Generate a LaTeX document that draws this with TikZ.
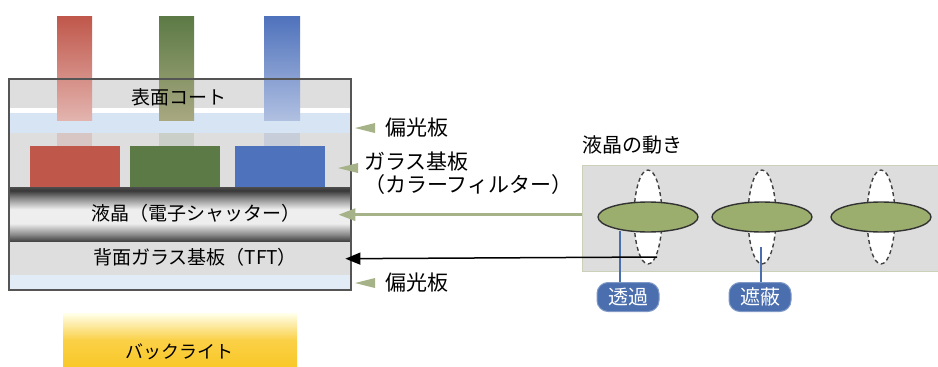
\documentclass[tikz,border=0pt]{standalone}
\usepackage{fontspec}
\newfontfamily\jp{Noto Sans CJK JP}
\usetikzlibrary{arrows.meta,shapes.geometric,calc}

\definecolor{layergray}{HTML}{DEDEDE}
\definecolor{paleblue}{HTML}{D6E4F4}
\definecolor{framegray}{HTML}{555555}
\definecolor{fred}{HTML}{C0574B}
\definecolor{fgreen}{HTML}{5C7A45}
\definecolor{fgreenpale}{HTML}{A8A880}
\definecolor{fblue}{HTML}{4F72BC}
\definecolor{olive}{HTML}{A6B288}
\definecolor{lcgreen}{HTML}{9CAE6E}
\definecolor{tagblue}{HTML}{4A6EAE}
\definecolor{panelgray}{HTML}{DDDDDD}
\definecolor{mdark}{HTML}{383838}
\definecolor{mmid}{HTML}{8A8A8A}
\definecolor{mlight}{HTML}{EEEEEE}

% metallic look of the liquid crystal layer (path spans 25bp..75bp)
\pgfdeclareverticalshading{lcmetal}{100bp}{%
  color(0bp)=(mdark); color(25bp)=(mdark); color(32bp)=(mmid);
  color(42bp)=(mlight); color(55bp)=(mlight); color(65bp)=(mmid);
  color(72bp)=(mdark); color(75bp)=(mdark!90); color(100bp)=(mdark!90)}

\tikzset{
  layer/.style={draw=none, inner sep=0pt, anchor=north west, font=\jp\fontsize{19}{19}\selectfont},
  filter/.style={inner sep=0pt, anchor=north west, minimum width=90pt, minimum height=41pt},
  sidelabel/.style={anchor=west, inner sep=0pt, font=\jp\fontsize{21}{23}\selectfont, align=left},
  mk/.style={fill=olive, draw=none},
  lcflat/.style={ellipse, draw=black!80, line width=1.4pt, fill=lcgreen, minimum width=100pt, minimum height=30pt, inner sep=0pt},
  lcup/.style={ellipse, draw=black!75, dashed, dash pattern=on 4pt off 3pt, line width=1.4pt, fill=white, minimum width=28pt, minimum height=94pt, inner sep=0pt},
  tag/.style={rounded corners=11pt, fill=tagblue, draw=tagblue!70!white, line width=1pt, text=white, minimum width=62pt, minimum height=29pt, inner sep=0pt, font=\jp\fontsize{20}{20}\selectfont},
  tagline/.style={draw=tagblue, line width=2pt},
}

\begin{document}
\begin{tikzpicture}[x=1pt,y=-1pt]
\useasboundingbox (0,0) rectangle (938,367);

% ---- panel stack ----
\fill[layergray] (9,79) rectangle (351,290);
\node[layer, fill=layergray, minimum width=342pt, minimum height=29pt] (coat) at (9,79) {};
\fill[white] (9,108) rectangle (351,113);
\node[layer, fill=paleblue, minimum width=342pt, minimum height=20pt] (polA) at (9,113) {};
\node[layer, fill=layergray, minimum width=342pt, minimum height=54pt] (cfbase) at (9,133) {};

% light columns passing the colour filters
\shade[top color=fred, bottom color=fred!45!white] (57,16) rectangle (92,120);
\shade[top color=fgreen, bottom color=fgreenpale] (159,16) rectangle (194,120);
\shade[top color=fblue, bottom color=fblue!45!white] (264,16) rectangle (300,120);
\fill[fred!18!layergray] (57,133) rectangle (92,146);
\fill[fgreen!15!layergray] (159,133) rectangle (194,146);
\fill[fblue!15!layergray] (264,133) rectangle (300,146);

\node[filter, fill=fred] (cfr) at (30,146) {};
\node[filter, fill=fgreen] (cfg) at (130,146) {};
\node[filter, fill=fblue] (cfb) at (235,146) {};

\node[layer, shading=lcmetal, minimum width=342pt, minimum height=55pt] (lc) at (9,187) {};
\node[layer, fill=layergray, minimum width=342pt, minimum height=33pt] (tft) at (9,242) {};
\node[layer, fill=paleblue!70!white, minimum width=342pt, minimum height=15pt] (polB) at (9,275) {};
\draw[framegray, line width=1.3pt] (9,79) rectangle (351,290);

\node[font=\jp\fontsize{19}{19}\selectfont] (tcoat) at (179,97) {表面コート};
\node[font=\jp\fontsize{19}{19}\selectfont] (tlc) at (196,213) {液晶（電子シャッター）};
\node[font=\jp\fontsize{19}{19}\selectfont] (ttft) at (195,257) {背面ガラス基板（TFT）};

% backlight
\node[inner sep=0pt, minimum width=234pt, minimum height=54pt, anchor=north west,
      top color=yellow!8!white, bottom color={rgb,255:red,249;green,200;blue,40},
      middle color={rgb,255:red,250;green,208;blue,70}] (bl) at (63,313) {};
\node[font=\jp\fontsize{18}{18}\selectfont] (tbl) at (179,352) {バックライト};

% ---- side labels ----
\node[sidelabel] (lpolA) at (385,128) {偏光板};
\node[sidelabel] (lglass) at (364,173) {ガラス基板\\（カラーフィルター）};
\node[sidelabel] (lpolB) at (385,283) {偏光板};
\fill[mk] ($(lpolA.west)+(-30,0)$) -- ++(20,-5) -- ++(0,10) -- cycle;
\fill[mk] ($(lpolB.west)+(-30,0)$) -- ++(20,-5) -- ++(0,10) -- cycle;
\coordinate (gmk) at (338,168);
\fill[mk] (gmk) -- ++(20,-5) -- ++(0,10) -- cycle;

% ---- liquid crystal behaviour ----
\node[anchor=north west, inner sep=0pt, minimum width=360pt, minimum height=106pt,
      fill=panelgray, draw=olive!60!white, line width=1pt] (panel) at (582,165) {};
\node[anchor=west, inner sep=0pt, font=\jp\fontsize{20}{20}\selectfont] (ptitle) at (582,145) {液晶の動き};

\foreach \i/\cx in {1/648, 2/762, 3/881} {
  \node[lcup] (lcv\i) at (\cx,217) {};
  \node[lcflat] (lch\i) at (\cx,217) {};
}

\node[tag] (pass) at (628,297) {透過};
\node[tag] (block) at (760,297) {遮蔽};
\coordinate (passpt) at (620,231);
\coordinate (blockpt) at (761,247);
\draw[tagline] (pass.north -| passpt) -- (passpt);
\draw[tagline] (block.north -| blockpt) -- (blockpt);

% ---- connectors back to the panel ----
\draw[olive, line width=3pt, -{Triangle[length=17pt,width=12pt]}]
  (panel.west |- lc.east) -- ([xshift=-13pt]lc.east);
\coordinate (src) at (657,257);
\draw[black, line width=1.5pt, -{Triangle[length=15pt,width=12pt]}]
  (src) -- ([xshift=-6pt]tft.east);

\end{tikzpicture}
\end{document}
